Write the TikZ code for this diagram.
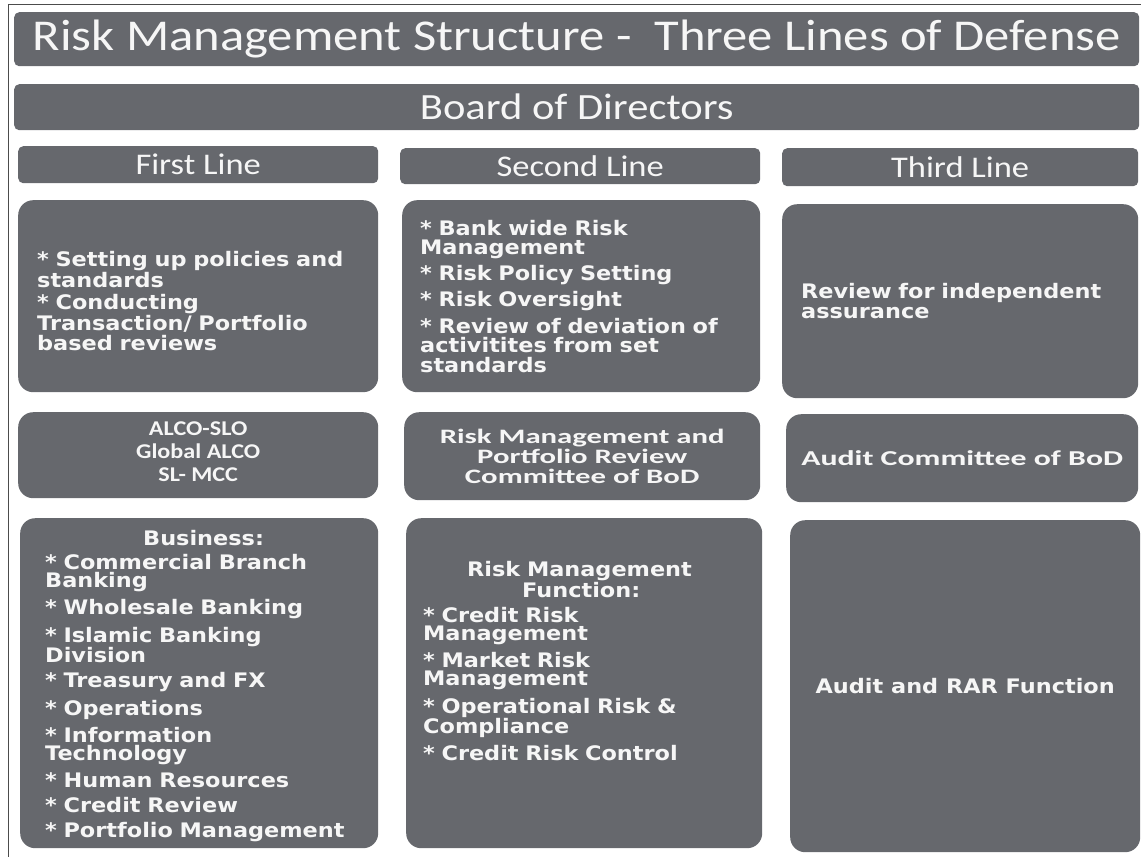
\documentclass[tikz,border=0pt]{standalone}
\usepackage{fontspec}
\setmainfont{Carlito}[FakeStretch=1.15]
\newfontfamily\bodyfont{DejaVu Sans}[FakeStretch=1.12]
\newfontfamily\cmtefont{Carlito}[FakeStretch=1.5]
\definecolor{boxgray}{RGB}{102,104,109}
\definecolor{fontwhite}{RGB}{246,246,246}
\tikzset{
  bar/.style={fill=boxgray, rounded corners=5pt, anchor=north west, inner sep=0pt, text=fontwhite},
  panel/.style={fill=boxgray, rounded corners=15pt, anchor=north west, inner sep=0pt, text=fontwhite},
  body/.style={text=fontwhite, align=left, inner sep=0pt, font=\bodyfont\bfseries\fontsize{20}{20.5}\selectfont},
  cmte/.style={font=\bfseries\fontsize{21}{23}\selectfont, align=center}
}
\begin{document}
\begin{tikzpicture}[x=1pt,y=-1pt]
\useasboundingbox (0,0) rectangle (1141,857);
\draw [black!70, line width=1pt] (8,857) -- (8,4) -- (1141,4);
% header bars
\node [bar, minimum width=1125pt, minimum height=54pt, font=\fontsize{44}{44}\selectfont] (title) at (14,12) {Risk Management Structure -\ \ Three Lines of Defense};
\node [bar, minimum width=1125pt, minimum height=46pt, font=\fontsize{37}{37}\selectfont] (board) at (14,84) {Board of Directors};
\node [bar, minimum width=360pt, minimum height=37pt, font=\fontsize{30}{30}\selectfont] (first) at (18,146) {First Line};
\node [bar, minimum width=360pt, minimum height=36pt, font=\fontsize{30}{30}\selectfont] (second) at (400,148) {Second Line};
\node [bar, minimum width=356pt, minimum height=38pt, font=\fontsize{30}{30}\selectfont] (third) at (782,148) {Third Line};
% row 1
\node [panel, minimum width=360pt, minimum height=192pt] (firstrole) at (18,200) {};
\node [body, anchor=west, text width=335pt] (firstroletext) at ([xshift=19pt,yshift=-5pt]firstrole.west) {* Setting up policies and\\standards\\[2pt]* Conducting\\Transaction/ Portfolio\\based reviews};
\node [panel, minimum width=358pt, minimum height=192pt] (secondrole) at (402,200) {};
\node [body, anchor=west, text width=335pt, font=\bodyfont\bfseries\fontsize{20}{19.5}\selectfont] (secondroletext) at ([xshift=18pt]secondrole.west) {* Bank wide Risk\\Management\\[5pt]* Risk Policy Setting\\[6pt]* Risk Oversight\\[6pt]* Review of deviation of\\activitites from set\\standards};
\node [panel, minimum width=356pt, minimum height=194pt] (thirdrole) at (782,204) {};
\node [body, anchor=west, text width=335pt] (thirdroletext) at ([xshift=19pt]thirdrole.west) {Review for independent\\assurance};
% row 2
\node [panel, minimum width=360pt, minimum height=86pt] (firstcmte) at (18,412) {};
\node [cmte, text=fontwhite, inner sep=0pt] (firstcmtetext) at ([yshift=4pt]firstcmte.center) {ALCO-SLO\\Global ALCO\\SL- MCC};
\node [panel, minimum width=356pt, minimum height=88pt, cmte, font=\cmtefont\bfseries\fontsize{20.5}{20}\selectfont] (secondcmte) at (404,412) {Risk Management and\\Portfolio Review\\Committee of BoD};
\node [panel, minimum width=352pt, minimum height=88pt, cmte, font=\cmtefont\bfseries\fontsize{21.2}{21.2}\selectfont] (thirdcmte) at (786,414) {Audit Committee of BoD};
% row 3
\node [panel, minimum width=358pt, minimum height=330pt] (business) at (20,518) {};
\node [body, anchor=west, text width=325pt, font=\bodyfont\bfseries\fontsize{20}{18}\selectfont] (businesstext) at ([xshift=25pt,yshift=-3pt]business.west) {\hspace*{98pt}Business:\\[6pt]* Commercial Branch\\Banking\\[7pt]* Wholesale Banking\\[7pt]* Islamic Banking\\Division\\[7pt]* Treasury and FX\\[7pt]* Operations\\[7pt]* Information\\Technology\\[7pt]* Human Resources\\[7pt]* Credit Review\\[7pt]* Portfolio Management};
\node [panel, minimum width=356pt, minimum height=330pt] (rmfunc) at (406,518) {};
\node [body, anchor=west, text width=325pt, font=\bodyfont\bfseries\fontsize{20}{18}\selectfont] (rmfunctext) at ([xshift=17pt,yshift=22pt]rmfunc.west) {\hspace*{44pt}Risk Management\\\hspace*{99pt}Function:\\[7pt]* Credit Risk\\Management\\[7pt]* Market Risk\\Management\\[7pt]* Operational Risk \&\\Compliance\\[7pt]* Credit Risk Control};
\node [panel, minimum width=350pt, minimum height=332pt, font=\bodyfont\bfseries\fontsize{20}{20}\selectfont] (audit) at (790,520) {Audit and RAR Function};
\end{tikzpicture}
\end{document}
